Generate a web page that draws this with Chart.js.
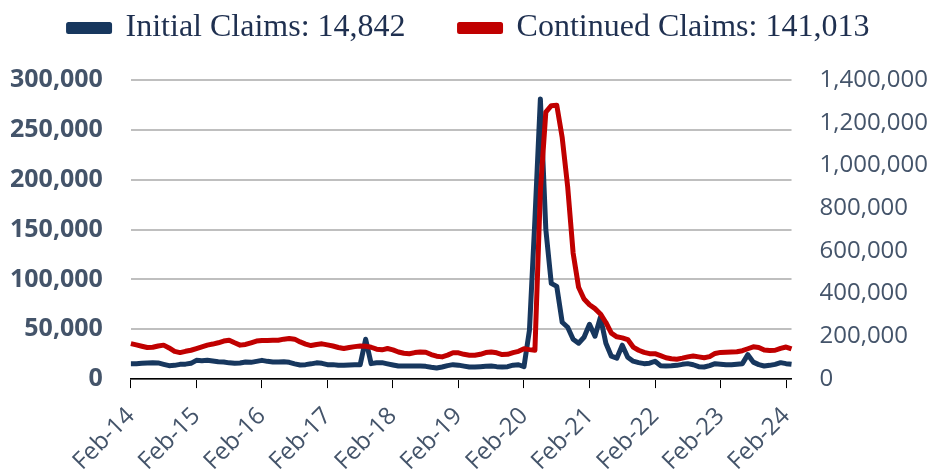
<!DOCTYPE html>
<html>
<head>
<meta charset="utf-8">
<script src="https://cdn.jsdelivr.net/npm/chart.js@4"></script>
<style>
html, body { margin: 0; padding: 0; background: #fff; }
#wrap { width: 934px; height: 475px; }
</style>
</head>
<body>
<div id="wrap"><canvas id="claimsChart"></canvas></div>
<script>
// monthly, Feb-14 .. Mar-24
const startYear = 2014;
const monthNames = ['Jan', 'Feb', 'Mar', 'Apr', 'May', 'Jun', 'Jul', 'Aug', 'Sep', 'Oct', 'Nov', 'Dec'];

const initialClaims = [
    15300, 15300, 15800, 16200, 16300, 16200, 14800, 13500, 13800, 14800, 15000, 15800,
    18800, 18500, 18800, 18200, 17500, 17200, 16300, 15800, 16200, 17200, 16800, 17800,
    18800, 17800, 17200, 17200, 17500, 16800, 15300, 14200, 14500, 15300, 16300, 15800,
    14500, 14500, 13800, 13800, 14200, 14500, 14500, 40000, 15500, 16300, 16500, 15300,
    14200, 13100, 13100, 13100, 13100, 13100, 12800, 11800, 11100, 12100, 13500, 14500,
    14000, 13000, 12100, 12100, 12500, 13000, 13100, 12500, 12100, 12500, 14000, 14400,
    12500, 49000, 160000, 281000, 150000, 96000, 93000, 57000, 52000, 40000, 36000, 42000,
    55000, 43000, 62000, 36000, 23000, 21000, 34000, 22000, 18000, 16500, 15500, 16000,
    17900, 13500, 13100, 13300, 13800, 14800, 15500, 14400, 12500, 12100, 13500, 15500,
    15000, 14400, 14400, 15000, 15500, 24500, 17000, 14500, 13100, 13800, 14800, 16500,
    15500, 14842
];

const continuedClaims = [
    166000, 160000, 154000, 148000, 149000, 155000, 159000, 146000, 130000, 124000, 130000, 135000,
    143000, 151000, 159000, 164000, 170000, 178000, 182000, 170000, 159000, 162000, 170000, 178000,
    181000, 181000, 182000, 182000, 187000, 190000, 187000, 174000, 164000, 157000, 162000, 165000,
    160000, 155000, 148000, 143000, 148000, 152000, 155000, 154000, 149000, 140000, 137000, 143000,
    137000, 127000, 121000, 119000, 124000, 127000, 126000, 115000, 107000, 104000, 112000, 123000,
    123000, 116000, 112000, 112000, 116000, 124000, 127000, 123000, 115000, 116000, 124000, 130000,
    142000, 138000, 135000, 880000, 1250000, 1280000, 1282000, 1130000, 900000, 590000, 430000, 375000,
    348000, 330000, 305000, 265000, 215000, 198000, 193000, 185000, 150000, 135000, 125000, 119000,
    119000, 110000, 100000, 95000, 93000, 98000, 104000, 108000, 104000, 100000, 105000, 120000,
    125000, 126000, 127000, 128000, 133000, 142000, 151000, 148000, 136000, 134000, 135000, 144000,
    150000, 141013
];

const months = initialClaims.map((_, i) => {
    const m = (1 + i) % 12;
    const y = startYear + Math.floor((1 + i) / 12);
    return monthNames[m] + '-' + String(y).slice(2);
});

const axisFont = "'Open Sans', sans-serif";
const slate = '#44546a';

const legendGap = {
    id: 'legendGap',
    beforeInit(chart) {
        const fit = chart.legend.fit;
        chart.legend.fit = function () {
            fit.bind(chart.legend)();
            this.height += 26;
        };
    }
};

function drawChart() {
    new Chart(document.getElementById('claimsChart'), {
        type: 'line',
        data: {
            labels: months,
            datasets: [
                {
                    label: 'Initial Claims: 14,842',
                    data: initialClaims,
                    yAxisID: 'y',
                    borderColor: '#17375e',
                    backgroundColor: '#17375e',
                    borderWidth: 5,
                    pointRadius: 0,
                    tension: 0,
                    borderJoinStyle: 'round',
                    order: 1
                },
                {
                    label: 'Continued Claims: 141,013',
                    data: continuedClaims,
                    yAxisID: 'y2',
                    borderColor: '#c00000',
                    backgroundColor: '#c00000',
                    borderWidth: 5,
                    pointRadius: 0,
                    tension: 0,
                    borderJoinStyle: 'round',
                    order: 0
                }
            ]
        },
        options: {
            responsive: true,
            maintainAspectRatio: false,
            animation: false,
            // tick padding is counted twice by the axes, hence the negative sides
            layout: { padding: { top: -42, left: -18, right: -22, bottom: -15 } },
            plugins: {
                legend: {
                    position: 'top',
                    labels: {
                        font: { family: "'Liberation Serif', serif", size: 32 },
                        color: '#1f3050',
                        boxWidth: 41,
                        boxHeight: 7,
                        padding: 54,
                        sort: (a, b) => a.datasetIndex - b.datasetIndex
                    }
                },
                tooltip: { enabled: false }
            },
            scales: {
                x: {
                    offset: false,
                    afterFit: (scale) => {
                        scale.paddingLeft = 0;
                        scale.paddingRight = 0;
                    },
                    grid: {
                        drawOnChartArea: false,
                        drawTicks: true,
                        tickLength: 9,
                        color: '#000',
                        lineWidth: 1
                    },
                    border: { display: true, color: '#000', width: 1.5 },
                    ticks: {
                        autoSkip: false,
                        maxRotation: 45,
                        minRotation: 45,
                        padding: 14,
                        color: slate,
                        font: { family: axisFont, size: 24 },
                        callback: function (val, i) {
                            const lab = months[i];
                            return lab.startsWith('Feb') ? lab : null;
                        }
                    }
                },
                y: {
                    position: 'left',
                    min: 0,
                    max: 300000,
                    grid: { color: '#bfbfbf', lineWidth: 2, drawTicks: false },
                    border: { display: false },
                    ticks: {
                        stepSize: 50000,
                        padding: 28,
                        color: slate,
                        font: { family: axisFont, size: 25, weight: 'bold' },
                        callback: (v) => v.toLocaleString('en-US')
                    }
                },
                y2: {
                    position: 'right',
                    min: 0,
                    max: 1400000,
                    grid: { drawOnChartArea: false, drawTicks: false },
                    border: { display: false },
                    ticks: {
                        stepSize: 200000,
                        padding: 28,
                        color: slate,
                        font: { family: axisFont, size: 24 },
                        callback: (v) => v.toLocaleString('en-US')
                    }
                }
            }
        },
        plugins: [legendGap]
    });
}

Promise.all([
    document.fonts.load("bold 25px 'Open Sans'"),
    document.fonts.load("24px 'Open Sans'"),
    document.fonts.load("32px 'Liberation Serif'")
]).then(drawChart, drawChart);
</script>
</body>
</html>
